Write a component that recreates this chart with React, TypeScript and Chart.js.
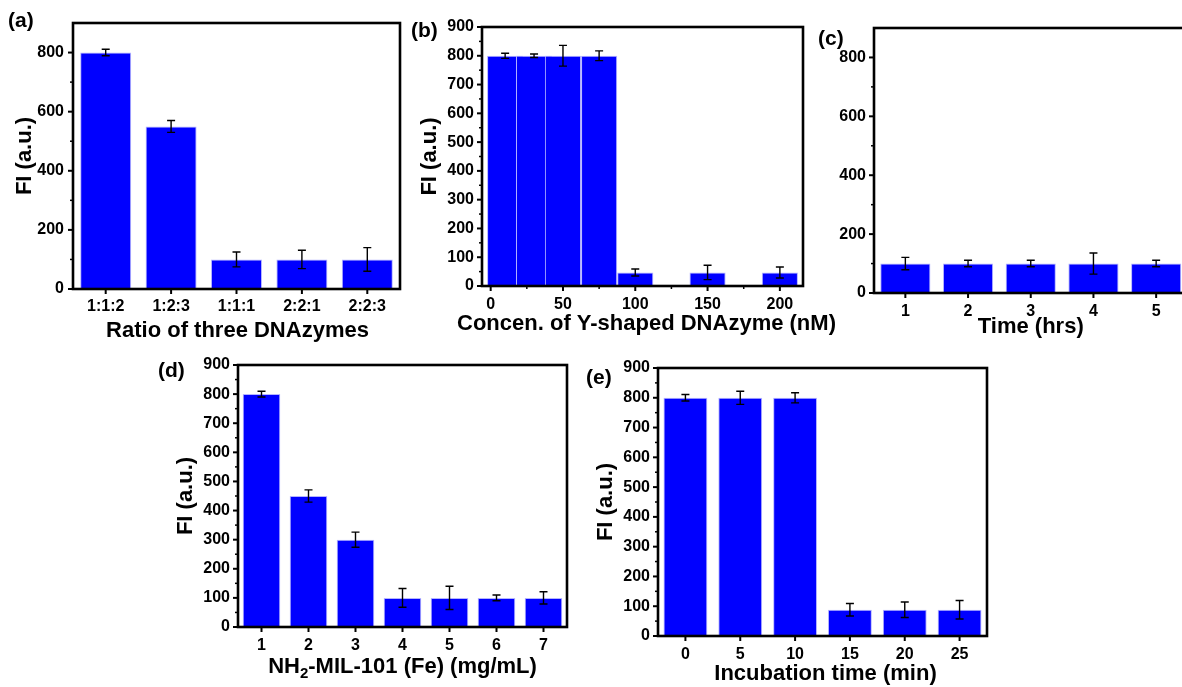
import React, { useEffect, useRef } from 'react';
import { Chart, registerables } from 'chart.js';
Chart.register(...registerables);

const FONT = '"Liberation Sans", Arial, Helvetica, sans-serif';
const BLUE = '#0000FF';
const BAR_EDGE = '#b4b4ff';
const TITLE_SIZE = 22;

// ---------- data ----------
// (a)
const catsA = ['1:1:2', '1:2:3', '1:1:1', '2:2:1', '2:2:3'];
const valsA = [800, 550, 100, 100, 100];
const errA = [11, 20, 25, 31, 40];
const yTicksA = [0, 200, 400, 600, 800];
// (b)
const concB = [10, 30, 50, 75, 100, 150, 200];
const valsB = [800, 800, 800, 800, 47, 47, 47];
const errB = [9, 6, 36, 17, 12, 25, 19];
const xTicksB = [0, 50, 100, 150, 200];
const yTicksB = [0, 100, 200, 300, 400, 500, 600, 700, 800, 900];
// (c)
const catsC = ['1', '2', '3', '4', '5'];
const valsC = [100, 100, 100, 100, 100];
const errC = [21, 11, 11, 36, 11];
const yTicksC = [0, 200, 400, 600, 800];
// (d)
const catsD = ['1', '2', '3', '4', '5', '6', '7'];
const valsD = [800, 450, 300, 100, 100, 100, 100];
const errD = [10, 21, 26, 32, 40, 10, 21];
const yTicksD = [0, 100, 200, 300, 400, 500, 600, 700, 800, 900];
// (e)
const catsE = ['0', '5', '10', '15', '20', '25'];
const valsE = [800, 800, 800, 88, 88, 88];
const errE = [11, 22, 17, 21, 26, 31];
const yTicksE = [0, 100, 200, 300, 400, 500, 600, 700, 800, 900];

const yTitle = 'FI (a.u.)';
const titleA = [{ t: 'Ratio of three DNAzymes', sub: false }];
const titleB = [{ t: 'Concen. of Y-shaped DNAzyme (nM)', sub: false }];
const titleC = [{ t: 'Time (hrs)', sub: false }];
const titleD = [
  { t: 'NH', sub: false },
  { t: '2', sub: true },
  { t: '-MIL-101 (Fe) (mg/mL)', sub: false },
];
const titleE = [{ t: 'Incubation time (min)', sub: false }];

// ---------- plugin: frame, ticks, error bars, x title ----------
const decorPlugin = {
  id: 'decor',
  afterDatasetsDraw(chart: any, _args: any, opts: any) {
    const ctx = chart.ctx;
    const { left, right, top, bottom } = chart.chartArea;
    const xs = chart.scales.x;
    const ys = chart.scales.y;
    ctx.save();
    // error bars
    const meta = chart.getDatasetMeta(0);
    const data = chart.data.datasets[0].data;
    const errs: number[] = opts.errors || [];
    ctx.strokeStyle = '#000';
    ctx.lineWidth = 1.4;
    meta.data.forEach((bar: any, i: number) => {
      const e = errs[i];
      if (!e) return;
      const d = data[i];
      const v = typeof d === 'number' ? d : d.y;
      const x = bar.x;
      const y1 = ys.getPixelForValue(v + e);
      const y2 = ys.getPixelForValue(v - e);
      ctx.beginPath();
      ctx.moveTo(x, y1); ctx.lineTo(x, y2);
      ctx.moveTo(x - 4, y1); ctx.lineTo(x + 4, y1);
      ctx.moveTo(x - 4, y2); ctx.lineTo(x + 4, y2);
      ctx.stroke();
    });
    // frame
    ctx.lineWidth = 2.6;
    ctx.strokeRect(left, top, right - left, bottom - top);
    // y ticks
    const yMaj: number[] = opts.yMajor || [];
    ctx.lineWidth = 2;
    yMaj.forEach((v) => {
      const p = ys.getPixelForValue(v);
      ctx.beginPath(); ctx.moveTo(left - 5, p); ctx.lineTo(left, p); ctx.stroke();
    });
    if (yMaj.length > 1) {
      const step = yMaj[1] - yMaj[0];
      ctx.lineWidth = 1.5;
      for (let v = yMaj[0] + step / 2; v < ys.max; v += step) {
        const p = ys.getPixelForValue(v);
        ctx.beginPath(); ctx.moveTo(left - 3, p); ctx.lineTo(left, p); ctx.stroke();
      }
    }
    // x ticks
    const xMaj: number[] = opts.xMajor || [];
    ctx.lineWidth = 2;
    xMaj.forEach((v) => {
      const p = xs.getPixelForValue(v);
      ctx.beginPath(); ctx.moveTo(p, bottom); ctx.lineTo(p, bottom + 5); ctx.stroke();
    });
    if (opts.xMinor && xMaj.length > 1) {
      const step = xMaj[1] - xMaj[0];
      ctx.lineWidth = 1.5;
      for (let v = xMaj[0] + step / 2; v < xs.max; v += step) {
        const p = xs.getPixelForValue(v);
        ctx.beginPath(); ctx.moveTo(p, bottom); ctx.lineTo(p, bottom + 3); ctx.stroke();
      }
    }
    // x title (drawn here so it is not squeezed to the plot width)
    if (opts.xTitle) {
      const parts = opts.xTitle.parts as { t: string; sub: boolean }[];
      const main = `bold ${TITLE_SIZE}px ${FONT}`;
      const small = `bold 15px ${FONT}`;
      let total = 0;
      parts.forEach((p) => {
        ctx.font = p.sub ? small : main;
        total += ctx.measureText(p.t).width;
      });
      let x = (left + right) / 2 + (opts.xTitle.dx || 0) - total / 2;
      const yb = opts.xTitle.baseline;
      ctx.fillStyle = '#000';
      ctx.textBaseline = 'alphabetic';
      ctx.textAlign = 'left';
      parts.forEach((p) => {
        ctx.font = p.sub ? small : main;
        ctx.fillText(p.t, x, p.sub ? yb + 5 : yb);
        x += ctx.measureText(p.t).width;
      });
    }
    ctx.restore();
  },
};

type Spec = {
  x0: number; y0: number; w: number; h: number;
  L: number; T: number; R: number; B: number;
  labels?: string[];
  values: number[];
  xs?: number[];
  errors: number[];
  yTicks: number[];
  yMax: number;
  xMin?: number; xMax?: number; xTicks?: number[];
  barPct: number;
  yTitleMid?: number; // absolute x of y-title middle
  xTitleParts: { t: string; sub: boolean }[];
  xTitleBase: number; // absolute baseline y
  xTitleDx: number;
  xTickPad: number;
  yTickPad: number;
};

function makeConfig(s: Spec): any {
  const tickFont = { family: FONT, size: 16, weight: 'bold' as const };
  const titleFont = { family: FONT, size: TITLE_SIZE, weight: 'bold' as const };
  const half = TITLE_SIZE * 1.2 / 2;
  const yW = s.L - s.x0;
  const xH = s.y0 + s.h - s.B;
  const linear = !!s.xs;
  const data = linear
    ? s.xs!.map((x, i) => ({ x, y: s.values[i] }))
    : s.values;
  const xScale: any = {
    type: linear ? 'linear' : 'category',
    offset: !linear,
    grid: { display: false, drawTicks: false, tickLength: 0 },
    border: { display: false },
    ticks: { font: tickFont, color: '#000', padding: s.xTickPad, maxRotation: 0, autoSkip: false },
    title: { display: false },
    afterFit: (sc: any) => { sc.height = xH; },
  };
  if (linear) {
    xScale.min = s.xMin;
    xScale.max = s.xMax;
    xScale.afterBuildTicks = (sc: any) => { sc.ticks = s.xTicks!.map((v) => ({ value: v })); };
  }
  const yScale: any = {
    type: 'linear',
    min: 0,
    max: s.yMax,
    grid: { display: false, drawTicks: false, tickLength: 0 },
    border: { display: false },
    ticks: { font: tickFont, color: '#000', padding: s.yTickPad },
    afterBuildTicks: (sc: any) => { sc.ticks = s.yTicks.map((v) => ({ value: v })); },
    title: {
      display: s.yTitleMid !== undefined,
      text: yTitle,
      font: titleFont,
      color: '#000',
      padding: { top: s.yTitleMid !== undefined ? (s.yTitleMid - s.x0 - half) : 0, bottom: 0 },
    },
    afterFit: (sc: any) => { sc.width = yW; },
  };
  return {
    type: 'bar',
    data: {
      labels: s.labels,
      datasets: [{
        data,
        backgroundColor: BLUE,
        borderColor: BAR_EDGE,
        borderWidth: 1,
        barPercentage: s.barPct,
        categoryPercentage: 1,
      }],
    },
    options: {
      responsive: false,
      animation: false,
      devicePixelRatio: 1,
      layout: { padding: { left: 0, top: s.T - s.y0, right: s.x0 + s.w - s.R, bottom: 0 } },
      plugins: {
        legend: { display: false },
        tooltip: { enabled: false },
        decor: {
          errors: s.errors,
          yMajor: s.yTicks,
          xMajor: linear ? s.xTicks : s.values.map((_, i) => i),
          xMinor: linear,
          xTitle: { parts: s.xTitleParts, baseline: s.xTitleBase - s.y0, dx: s.xTitleDx },
        },
      },
      scales: { x: xScale, y: yScale },
    },
    plugins: [decorPlugin],
  };
}

const specs: Spec[] = [
  {
    x0: 0, y0: 0, w: 403, h: 345, L: 73, T: 23, R: 400, B: 289,
    labels: catsA, values: valsA, errors: errA, yTicks: yTicksA, yMax: 900,
    barPct: 0.78, yTitleMid: 25, xTitleParts: titleA, xTitleBase: 336.5, xTitleDx: 1,
    xTickPad: 8, yTickPad: 9,
  },
  {
    x0: 403, y0: 0, w: 445, h: 345, L: 482, T: 27, R: 803, B: 286,
    xs: concB, values: valsB, errors: errB, yTicks: yTicksB, yMax: 900,
    xMin: -6, xMax: 216, xTicks: xTicksB,
    barPct: 1.25, yTitleMid: 429.6, xTitleParts: titleB, xTitleBase: 330, xTitleDx: 4,
    xTickPad: 9.3, yTickPad: 8,
  },
  {
    x0: 815, y0: 0, w: 380, h: 345, L: 874, T: 28, R: 1187.5, B: 293,
    labels: catsC, values: valsC, errors: errC, yTicks: yTicksC, yMax: 900,
    barPct: 0.8, xTitleParts: titleC, xTitleBase: 333, xTitleDx: 0,
    xTickPad: 9.3, yTickPad: 8,
  },
  {
    x0: 150, y0: 345, w: 425, h: 342, L: 238, T: 365, R: 567, B: 627,
    labels: catsD, values: valsD, errors: errD, yTicks: yTicksD, yMax: 900,
    barPct: 0.8, yTitleMid: 186.2, xTitleParts: titleD, xTitleBase: 673.3, xTitleDx: 0,
    xTickPad: 8.6, yTickPad: 8,
  },
  {
    x0: 580, y0: 345, w: 415, h: 342, L: 658, T: 368, R: 987, B: 636,
    labels: catsE, values: valsE, errors: errE, yTicks: yTicksE, yMax: 900,
    barPct: 0.8, yTitleMid: 606.2, xTitleParts: titleE, xTitleBase: 680, xTitleDx: 3,
    xTickPad: 9.3, yTickPad: 8,
  },
];

const panelLabels = [
  { t: '(a)', x: 8, y: 9 },
  { t: '(b)', x: 411, y: 19 },
  { t: '(c)', x: 818, y: 27 },
  { t: '(d)', x: 158, y: 359 },
  { t: '(e)', x: 586, y: 366 },
];

function ChartBox({ spec }: { spec: Spec }) {
  const ref = useRef<HTMLCanvasElement>(null);
  useEffect(() => {
    const c = new Chart(ref.current as HTMLCanvasElement, makeConfig(spec));
    return () => c.destroy();
  }, []);
  return (
    <canvas
      ref={ref}
      width={spec.w}
      height={spec.h}
      style={{ position: 'absolute', left: spec.x0, top: spec.y0, width: spec.w, height: spec.h }}
    />
  );
}

export default function App() {
  return (
    <div
      style={{
        position: 'fixed', left: 0, top: 0, width: 1182, height: 687,
        overflow: 'hidden', background: '#fff',
      }}
    >
      {specs.map((s, i) => <ChartBox key={i} spec={s} />)}
      {panelLabels.map((p) => (
        <div
          key={p.t}
          style={{
            position: 'absolute', left: p.x, top: p.y, fontFamily: FONT,
            fontWeight: 'bold', fontSize: 21, lineHeight: '21px', color: '#000',
          }}
        >
          {p.t}
        </div>
      ))}
    </div>
  );
}
